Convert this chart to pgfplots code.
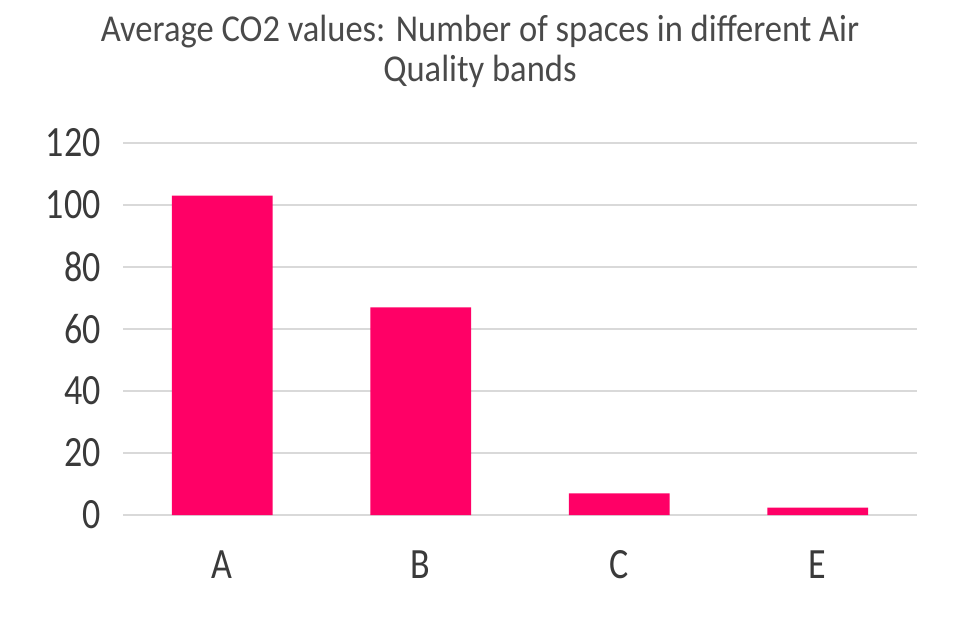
\documentclass[border=0pt]{standalone}
\usepackage{pgfplots}
\pgfplotsset{compat=1.18}
\usepackage{fontspec}
\setmainfont{Carlito}
\definecolor{barpink}{HTML}{FF0066}
\definecolor{gridgray}{HTML}{D9D9D9}
\definecolor{txt}{HTML}{3A3A3A}
\definecolor{ttl}{HTML}{4A4A4A}
\begin{document}
\begin{tikzpicture}[x=0.75pt,y=0.75pt]
\path[use as bounding box] (0,0) rectangle (960,640);
\node[text=ttl, font=\fontsize{25.9}{31.4}\selectfont, align=center, anchor=base, yscale=1.1] at (480,558) {Average CO2 values: Number of spaces in different Air\\[-4pt]Quality bands};
\begin{axis}[
  at={(92.25pt,93.75pt)}, anchor=south west,
  width=595.5pt, height=279pt, scale only axis,
  xmin=-0.5, xmax=3.5, ymin=0, ymax=120,
  axis line style={draw=none},
  ymajorgrids, grid style={gridgray, line width=1.5pt},
  major tick length=0pt,
  ytick={0,20,...,120},
  xtick={0,1,2,3}, xticklabels={A,B,C,E},
  tick label style={text=txt, font=\fontsize{27}{30}\selectfont, yscale=1.2},
  yticklabel style={anchor=east, inner sep=0pt, xshift=-16.5pt},
  xticklabel style={anchor=north, inner sep=0pt, yshift=-22pt},
  /pgf/number format/assume math mode=true,
  clip=false,
]
\addplot[ybar, bar width=75.5pt, fill=barpink, draw=none] coordinates {(0,103) (1,67) (2,7) (3,2.4)};
\end{axis}
\end{tikzpicture}
\end{document}
